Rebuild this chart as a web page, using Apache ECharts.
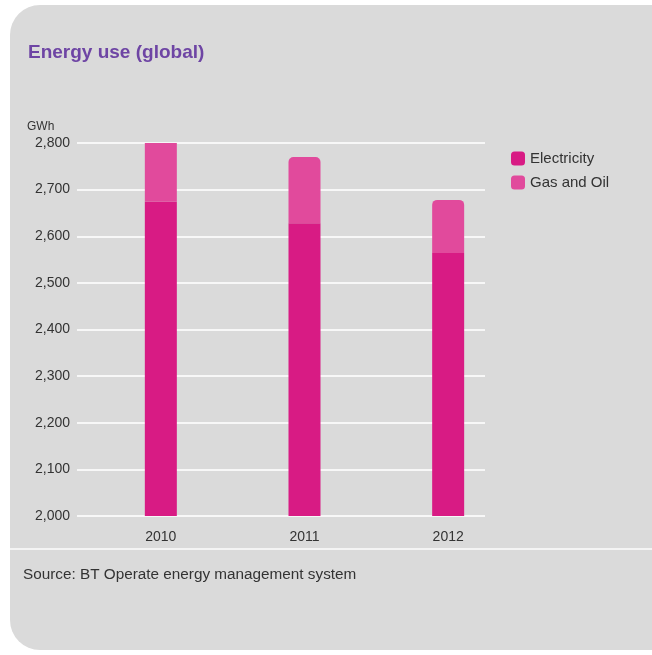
<!DOCTYPE html>
<html>
<head>
<meta charset="utf-8">
<script src="https://cdn.jsdelivr.net/npm/echarts@6/dist/echarts.min.js"></script>
<style>
  html, body { margin: 0; padding: 0; background: #ffffff; }
  #chart { width: 652px; height: 655px; }
</style>
</head>
<body>
<div id="chart"></div>
<script>
// Energy use by year, GWh
const years = ['2010', '2011', '2012'];
const electricity = [2674, 2628, 2564];
const gasAndOil = [126, 142, 114];
const seriesNames = ['Electricity', 'Gas and Oil'];
const yTicks = { min: 2000, max: 2800, step: 100 };

const FONT = '"Liberation Sans", Arial, sans-serif';
const TEXT = '#333333';
const chart = echarts.init(document.getElementById('chart'));

const fmt = v => echarts.format.addCommas(v);

chart.setOption({
  backgroundColor: '#ffffff',
  animation: false,
  textStyle: { fontFamily: FONT },
  graphic: [
    {
      type: 'rect', z: -10, silent: true,
      shape: { x: 10, y: 5, width: 660, height: 645, r: [30, 16, 0, 30] },
      style: { fill: '#dadada' }
    },
    {
      type: 'line', z: -5, silent: true,
      shape: { x1: 10, y1: 549, x2: 652, y2: 549 },
      style: { stroke: '#f4f4f4', lineWidth: 2 }
    },
    {
      type: 'text', left: 28, top: 43,
      style: { text: 'Energy use (global)', fill: '#6e45a4', font: 'bold 19px ' + FONT }
    },
    {
      type: 'text', left: 27, top: 121,
      style: { text: 'GWh', fill: TEXT, font: '12px ' + FONT }
    },
    {
      type: 'text', left: 23, top: 567,
      style: { text: 'Source: BT Operate energy management system', fill: TEXT, font: '15.3px ' + FONT }
    }
  ],
  legend: {
    orient: 'vertical', left: 511, top: 151, padding: 0,
    itemWidth: 14, itemHeight: 14, itemGap: 9,
    icon: 'roundRect',
    data: seriesNames,
    textStyle: { color: TEXT, fontSize: 15, fontFamily: FONT }
  },
  grid: [
    { left: 77, right: 167, top: 143, bottom: 139 },
    { left: 89, right: 132, top: 143, bottom: 139 }
  ],
  xAxis: [
    { gridIndex: 0, type: 'category', data: years, show: false },
    {
      gridIndex: 1, type: 'category', data: years,
      axisLine: { show: false }, axisTick: { show: false },
      axisLabel: { color: TEXT, fontSize: 14, fontFamily: FONT, margin: 14 }
    }
  ],
  yAxis: [
    {
      gridIndex: 0, type: 'value',
      min: yTicks.min, max: yTicks.max, interval: yTicks.step,
      axisLine: { show: false }, axisTick: { show: false },
      axisLabel: { color: TEXT, fontSize: 14, fontFamily: FONT, margin: 7, formatter: fmt },
      splitLine: { lineStyle: { color: '#f7f7f7', width: 2 } }
    },
    {
      gridIndex: 1, type: 'value',
      min: yTicks.min, max: yTicks.max, interval: yTicks.step,
      show: false, splitLine: { show: false }
    }
  ],
  series: [
    {
      name: seriesNames[0], type: 'bar', stack: 'energy',
      xAxisIndex: 1, yAxisIndex: 1, barWidth: 32,
      itemStyle: { color: '#d81b84' },
      data: electricity
    },
    {
      name: seriesNames[1], type: 'bar', stack: 'energy',
      xAxisIndex: 1, yAxisIndex: 1, barWidth: 32,
      itemStyle: { color: '#e14a9c', borderRadius: [5, 5, 0, 0] },
      // the 2010 bar reaches the top of the scale and is cut flat there
      data: gasAndOil.map((v, i) =>
        electricity[i] + v >= yTicks.max ? { value: v, itemStyle: { borderRadius: 0 } } : v)
    }
  ]
});
</script>
</body>
</html>
